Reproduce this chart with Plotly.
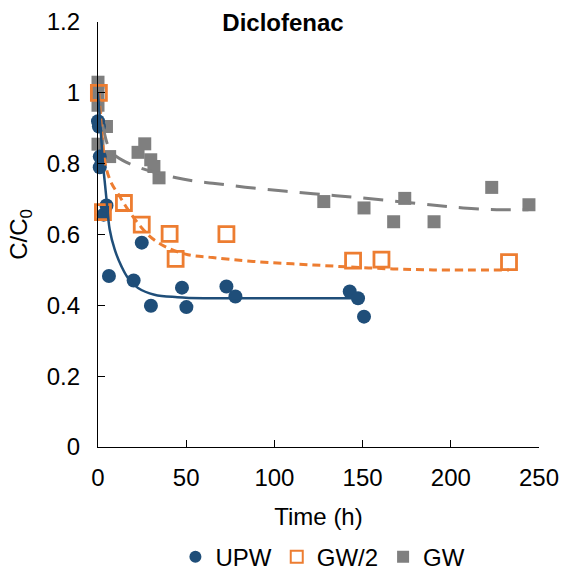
import plotly.graph_objects as go

# ---- data ----
upw_t = [0, 0.5, 1, 1, 3.2, 4.8, 6.2, 20.2, 24.8, 30, 47.6, 50.1, 72.8, 77.9, 142.7, 147.4, 150.8]
upw_c = [0.92, 0.905, 0.82, 0.79, 0.656, 0.682, 0.483, 0.470, 0.577, 0.399, 0.450, 0.395, 0.453, 0.425, 0.439, 0.420, 0.368]

gw2_t = [0.5, 2.8, 14.7, 24.8, 40.6, 44, 72.8, 144.6, 160.7, 233]
gw2_c = [1.0, 0.663, 0.689, 0.628, 0.602, 0.531, 0.601, 0.526, 0.529, 0.522]

gw_t = [0, 0, 0, 0, 4.8, 6.6, 22.7, 26.5, 29.9, 31.7, 34.6, 128, 150.8, 167.6, 173.9, 190.5, 223.2, 244.3]
gw_c = [1.03, 1.0, 0.965, 0.855, 0.905, 0.82, 0.832, 0.856, 0.811, 0.792, 0.760, 0.693, 0.675, 0.636, 0.702, 0.636, 0.733, 0.684]

# fitted model curves
upw_fit_t = [0, 1, 2, 3, 4, 5, 6.6, 9.5, 13.3, 17, 22.7, 32, 45, 60, 80, 100, 151]
upw_fit_c = [1.0, 0.93, 0.86, 0.79, 0.74, 0.69, 0.615, 0.557, 0.51, 0.477, 0.449, 0.43, 0.423, 0.42, 0.42, 0.42, 0.42]

gw2_fit_t = [0.5, 1.5, 3, 4.5, 7.6, 12, 17, 24.6, 31, 39.7, 51, 65, 88, 122, 156, 190, 233]
gw2_fit_c = [1.0, 0.93, 0.84, 0.79, 0.745, 0.71, 0.67, 0.62, 0.588, 0.562, 0.543, 0.535, 0.524, 0.514, 0.505, 0.50, 0.50]

gw_fit_t = [0, 1.5, 3, 6.6, 10.4, 21.8, 44.4, 55.8, 65, 88, 122, 150, 188, 207, 226, 244]
gw_fit_c = [1.0, 0.95, 0.90, 0.84, 0.82, 0.792, 0.760, 0.750, 0.745, 0.731, 0.715, 0.703, 0.684, 0.675, 0.670, 0.670]

x_ticks = [0, 50, 100, 150, 200, 250]
y_ticks = [0, 0.2, 0.4, 0.6, 0.8, 1, 1.2]
y_labels = ["0", "0.2", "0.4", "0.6", "0.8", "1", "1.2"]

BLUE = "#1F4E79"
ORANGE = "#ED7D31"
GRAY = "#7F7F7F"
FONT = "Liberation Sans, Arial, sans-serif"
FS = 24

fig = go.Figure()

fig.add_trace(go.Scatter(x=gw_t, y=gw_c, mode="markers", name="GW",
                         marker=dict(symbol="square", size=13, color=GRAY),
                         cliponaxis=False, legendrank=3))
fig.add_trace(go.Scatter(x=upw_t, y=upw_c, mode="markers", name="UPW",
                         marker=dict(symbol="circle", size=14, color=BLUE),
                         cliponaxis=False, legendrank=1))
fig.add_trace(go.Scatter(x=gw2_t, y=gw2_c, mode="markers", name="GW/2",
                         marker=dict(symbol="square-open", size=15, color=ORANGE,
                                     line=dict(width=2.8, color=ORANGE)),
                         cliponaxis=False, legendrank=2))

fig.add_trace(go.Scatter(x=gw_fit_t, y=gw_fit_c, mode="lines", showlegend=False,
                         line=dict(color=GRAY, width=3, dash="20px,12px", shape="spline")))
fig.add_trace(go.Scatter(x=gw2_fit_t, y=gw2_fit_c, mode="lines", showlegend=False,
                         line=dict(color=ORANGE, width=3, dash="8px,5px", shape="spline")))
fig.add_trace(go.Scatter(x=upw_fit_t, y=upw_fit_c, mode="lines", showlegend=False,
                         line=dict(color=BLUE, width=2.5, shape="spline")))

fig.update_layout(
    width=566, height=580,
    margin=dict(l=98, r=27, t=22, b=133, autoexpand=False),
    paper_bgcolor="white", plot_bgcolor="white",
    font=dict(family=FONT, size=FS, color="black"),
    title=dict(text="<b>Diclofenac</b>", x=0.5, xref="container", xanchor="center",
               y=1 - 23 / 580, yanchor="middle", font=dict(size=FS, family=FONT)),
    showlegend=True,
    legend=dict(orientation="h", x=0.51, xanchor="center", y=-0.259, yanchor="middle",
                font=dict(size=FS, family=FONT), traceorder="normal", itemsizing="constant"),
)

fig.update_xaxes(range=[0, 250], tickvals=x_ticks, showgrid=False, zeroline=False,
                 showline=True, linecolor="black", linewidth=1.3, automargin=False,
                 ticks="inside", ticklen=7, tickwidth=1.3, tickcolor="black",
                 ticklabelstandoff=9,
                 title=dict(text="Time (h)", standoff=18, font=dict(size=FS)),
                 tickfont=dict(size=FS))
fig.update_yaxes(range=[0, 1.2], tickvals=y_ticks, ticktext=y_labels, showgrid=False, zeroline=False,
                 showline=True, linecolor="black", linewidth=1.3, automargin=False,
                 ticks="inside", ticklen=7, tickwidth=1.3, tickcolor="black",
                 ticklabelstandoff=12,
                 title=dict(text="C/C<sub>0</sub>", standoff=12, font=dict(size=FS)),
                 tickfont=dict(size=FS))

fig.write_html("out.html")
